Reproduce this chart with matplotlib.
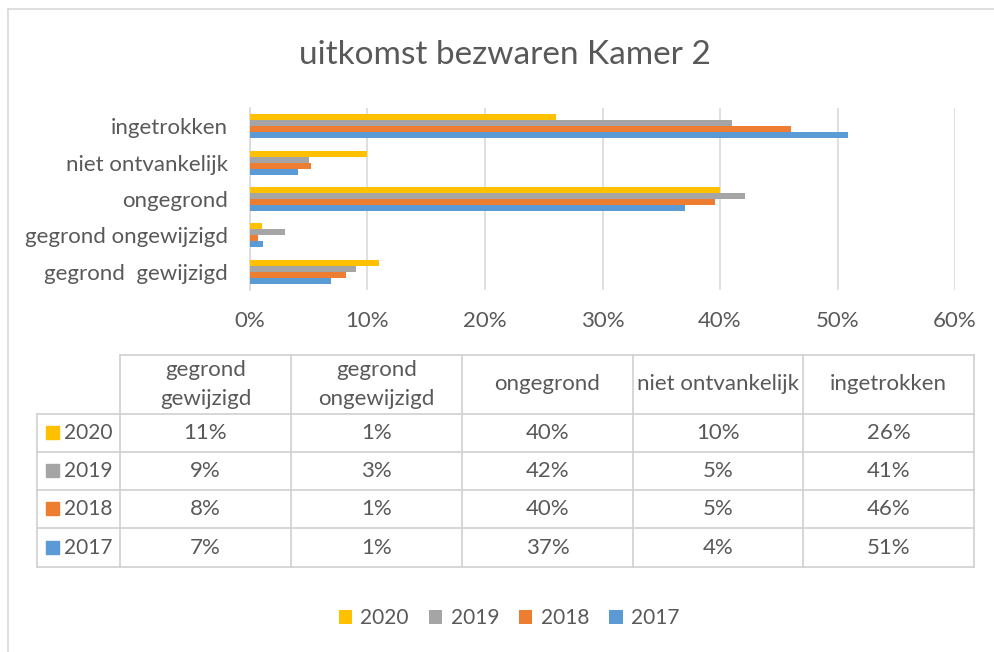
import numpy as np
import matplotlib.pyplot as plt
from matplotlib.patches import Rectangle
from matplotlib.lines import Line2D

plt.rcParams['font.family'] = ['Lato', 'DejaVu Sans']

# categorieën (van onder naar boven in de grafiek)
categories = ["gegrond  gewijzigd", "gegrond ongewijzigd", "ongegrond",
              "niet ontvankelijk", "ingetrokken"]
table_headers = ["gegrond\ngewijzigd", "gegrond\nongewijzigd", "ongegrond",
                 "niet ontvankelijk", "ingetrokken"]
years = ["2020", "2019", "2018", "2017"]

# percentages per jaar, zelfde volgorde als categories
pct_2020 = [11.0, 1.0, 40.0, 10.0, 26.0]
pct_2019 = [9.0, 3.0, 42.1, 5.0, 41.0]
pct_2018 = [8.2, 0.7, 39.6, 5.2, 46.0]
pct_2017 = [6.9, 1.1, 37.0, 4.05, 50.9]

series = [pct_2020, pct_2019, pct_2018, pct_2017]
colors = ["#FFC000", "#A5A5A5", "#ED7D31", "#5B9BD5"]

TXT = "#595959"
GRID = "#D9D9D9"
FS = 16

W, H = 995, 652
fig = plt.figure(figsize=(W / 100, H / 100), dpi=100)


def fx(px):
    return px / W


def fy(py):
    return 1 - py / H


# rand van de grafiek (alleen links en boven zichtbaar)
fig.add_artist(Line2D([fx(8), fx(8)], [fy(9), fy(660)], color=GRID, lw=1.2))
fig.add_artist(Line2D([fx(8), fx(1000)], [fy(9), fy(9)], color=GRID, lw=1.2))

fig.text(fx(505), fy(55), "uitkomst bezwaren Kamer 2", ha="center",
         va="center", fontsize=24, color=TXT)

ax = fig.add_axes([fx(250), fy(290), fx(955) - fx(250), fy(108) - fy(290)])
y = np.arange(len(categories))
bh = 0.165
for i, (vals, col, yr) in enumerate(zip(series, colors, years)):
    offs = (1.5 - i) * bh
    ax.barh(y + offs, vals, height=bh, color=col, label=yr, zorder=3)

ax.set_xlim(0, 60)
ax.set_ylim(-0.5, len(categories) - 0.5)
ax.set_xticks(np.arange(0, 61, 10))
ax.set_xticklabels([f"{v}%" for v in range(0, 61, 10)])
ax.set_yticks(y)
ax.set_yticklabels(categories)
ax.tick_params(axis="both", length=0, labelsize=FS, colors=TXT)
ax.tick_params(axis="x", pad=15)
ax.tick_params(axis="y", pad=16)
ax.grid(axis="x", color=GRID, lw=1.2, zorder=0)
for s in ["top", "right", "bottom"]:
    ax.spines[s].set_visible(False)
ax.spines["left"].set_color(GRID)
ax.spines["left"].set_linewidth(1.2)

# datatabel onder de grafiek
col_x = [37, 120, 291, 462, 633, 803, 974]
row_y = [355, 414, 452, 490, 528, 567]
tkw = dict(color="#D0D0D0", lw=1.2)

fig.add_artist(Line2D([fx(120), fx(974)], [fy(355), fy(355)], **tkw))
for ry in row_y[1:]:
    fig.add_artist(Line2D([fx(37), fx(974)], [fy(ry), fy(ry)], **tkw))
fig.add_artist(Line2D([fx(37), fx(37)], [fy(414), fy(567)], **tkw))
for cx in col_x[1:]:
    fig.add_artist(Line2D([fx(cx), fx(cx)], [fy(355), fy(567)], **tkw))

for j, head in enumerate(table_headers):
    xc = (col_x[j + 1] + col_x[j + 2]) / 2
    fig.text(fx(xc), fy((row_y[0] + row_y[1]) / 2), head, ha="center",
             va="center", fontsize=FS, color=TXT, linespacing=1.6)

for i, (vals, col, yr) in enumerate(zip(series, colors, years)):
    yc = (row_y[i + 1] + row_y[i + 2]) / 2
    fig.add_artist(Rectangle((fx(46), fy(yc + 6)), fx(13), fy(0) - fy(13),
                             color=col))
    fig.text(fx(64), fy(yc), yr, ha="left", va="center", fontsize=15,
             color=TXT)
    for j, v in enumerate(vals):
        xc = (col_x[j + 1] + col_x[j + 2]) / 2
        fig.text(fx(xc), fy(yc), f"{round(v):.0f}%", ha="center",
                 va="center", fontsize=FS, color=TXT)

handles, labels = ax.get_legend_handles_labels()
fig.legend(handles, labels, loc="center", bbox_to_anchor=(fx(509), fy(618)),
           ncol=4, frameon=False, fontsize=15, labelcolor=TXT,
           handlelength=0.65, handleheight=0.65, handletextpad=0.4,
           columnspacing=0.95)

fig.savefig("out.png", dpi=100, facecolor="white")
